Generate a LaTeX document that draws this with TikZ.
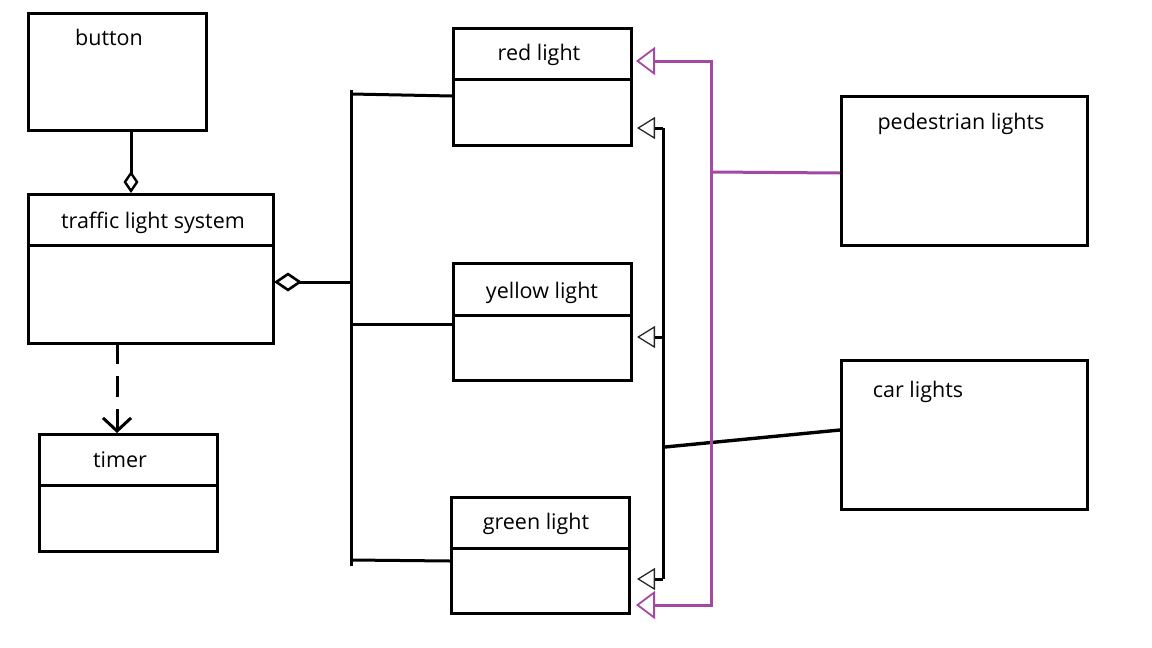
\documentclass[tikz,border=0pt]{standalone}
\usepackage{fontspec}
\setmainfont{Open Sans}
\usetikzlibrary{arrows.meta}
\definecolor{umlpurple}{RGB}{163,73,164}
\definecolor{tipgray}{RGB}{40,40,40}
\tikzset{
  cls/.style={draw, line width=3pt, rectangle, inner sep=0pt},
  lbl/.style={anchor=base, inner sep=0pt, font=\fontsize{21.5}{25}\selectfont},
  conn/.style={line width=3pt},
  divider/.style={line width=3pt},
  gen/.style={line width=3pt, -{Triangle[open, length=18pt, width=22pt, line width=1.3pt, color=tipgray]}},
  pgen/.style={line width=3pt, color=umlpurple},
}
\begin{document}
\begin{tikzpicture}[x=1pt,y=-1pt]
\useasboundingbox (0,0) rectangle (1152,648);
% class boxes
\node[cls, minimum width=178pt, minimum height=117pt, anchor=north west] (button) at (27,12) {};
\node[cls, minimum width=245pt, minimum height=149pt, anchor=north west] (tls) at (27,193) {};
\node[cls, minimum width=178pt, minimum height=117pt, anchor=north west] (timer) at (38,433) {};
\node[cls, minimum width=178pt, minimum height=117pt, anchor=north west] (red) at (452,27) {};
\node[cls, minimum width=178pt, minimum height=117pt, anchor=north west] (yellow) at (452,262) {};
\node[cls, minimum width=178pt, minimum height=116pt, anchor=north west] (green) at (450,496) {};
\node[cls, minimum width=246pt, minimum height=149pt, anchor=north west] (ped) at (840,95) {};
\node[cls, minimum width=246pt, minimum height=149pt, anchor=north west] (car) at (840,359) {};
% dividers
\draw[divider] (tls.west |- 0,245) -- (tls.east |- 0,245);
\draw[divider] (timer.west |- 0,485) -- (timer.east |- 0,485);
\draw[divider] (red.west |- 0,79) -- (red.east |- 0,79);
\draw[divider] (yellow.west |- 0,315) -- (yellow.east |- 0,315);
\draw[divider] (green.west |- 0,548) -- (green.east |- 0,548);
% labels
\node[lbl] (tbutton) at (109,45) {button};
\node[lbl] (ttls) at (153,228) {traffic light system};
\node[lbl] (ttimer) at (120,467) {timer};
\node[lbl] (tred) at (539,60) {red light};
\node[lbl] (tyellow) at (542,298) {yellow light};
\node[lbl] (tgreen) at (536,529) {green light};
\node[lbl] (tped) at (961,129) {pedestrian lights};
\node[lbl] (tcar) at (918,397) {car lights};
% button aggregation
\coordinate (bA) at (131,129);
\draw[conn, -{Diamond[open, length=22pt, width=15pt, line width=2.4pt]}] (bA) -- (tls.north -| bA);
% timer dependency
\coordinate (dA) at (117,343);
\draw[conn, dash pattern=on 21pt off 12pt, -{Straight Barb[length=13pt, width=28pt, line width=3pt]}] (dA) -- (timer.north -| dA);
% tls aggregation bus
\coordinate (aggA) at (274,282);
\coordinate (busMid) at (351,282);
\coordinate (busTop) at (351,90);
\coordinate (busBot) at (351,566);
\coordinate (busR) at (351,94);
\coordinate (busY) at (351,324);
\coordinate (busG) at (351,560);
\draw[conn, {Diamond[open, length=28pt, width=19pt, line width=2.6pt]}-] (aggA) -- (busMid);
\draw[conn] (busTop) -- (busBot);
\draw[conn] (busR) -- (red.west |- 0,96);
\draw[conn] (busY) -- (yellow.west |- busY);
\draw[conn] (busG) -- (green.west |- 0,561);
% black generalisation
\coordinate (gR) at (637,128);
\coordinate (gY) at (637,337);
\coordinate (gG) at (637,579);
\coordinate (vR) at (663,128);
\coordinate (vY) at (663,337);
\coordinate (vG) at (663,579);
\coordinate (vC) at (665,447);
\draw[conn] (vR) -- (vG);
\draw[gen] (vR) -- (gR);
\draw[gen] (vY) -- (gY);
\draw[gen] (vG) -- (gG);
% car lights
\coordinate (carA) at (840,430);
\draw[conn, line width=3.4pt] (vC) -- (carA);
% purple generalisation
\coordinate (pR) at (636,61);
\coordinate (pG) at (636,605);
\coordinate (pVR) at (711,61);
\coordinate (pVG) at (711,605);
\coordinate (pVP) at (711,172);
\draw[pgen, {Triangle[open, length=19pt, width=28pt, line width=1.8pt]}-{Triangle[open, length=19pt, width=28pt, line width=1.8pt]}] (pR) -- (pVR) -- (pVG) -- (pG);
\draw[pgen] (pVP) -- (ped.west |- 0,173);
\end{tikzpicture}
\end{document}
